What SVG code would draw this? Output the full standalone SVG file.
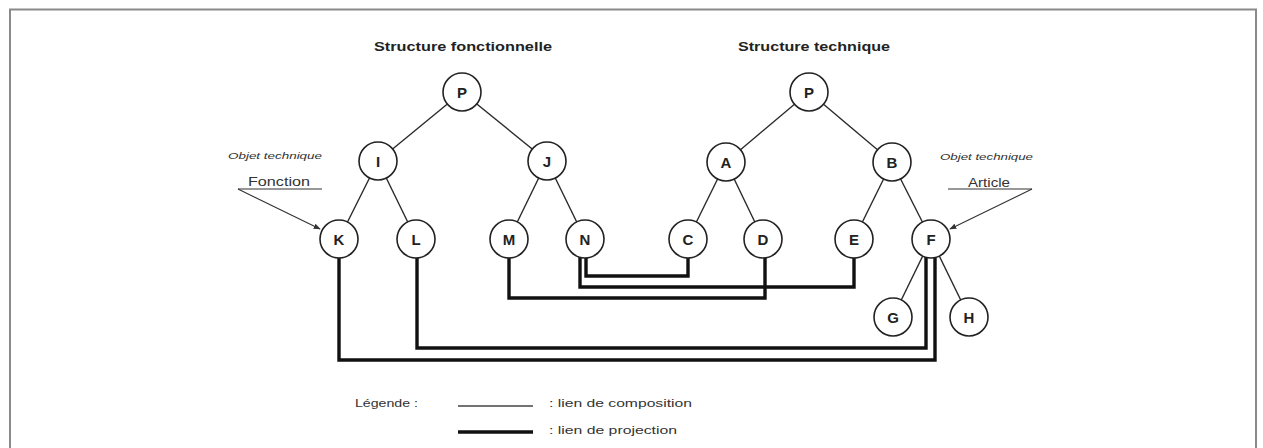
<svg xmlns="http://www.w3.org/2000/svg" width="1263" height="448" viewBox="0 0 1263 448">
<style>
.frame{fill:none;stroke:#8a8a8a;stroke-width:2}
.comp{stroke:#2a2a2a;stroke-width:1.4;fill:none}
.proj{stroke:#111;stroke-width:3.4;fill:none;stroke-linejoin:miter}
.node circle{fill:#fff;stroke:#222;stroke-width:1.6}
.node text{font-family:"Liberation Sans",Arial,sans-serif;font-weight:bold;font-size:15px;fill:#222;text-anchor:middle}
.title{font-family:"Liberation Sans",Arial,sans-serif;font-weight:bold;font-size:13px;fill:#222}
.note{font-family:"Liberation Sans",Arial,sans-serif;font-style:italic;font-size:9px;fill:#333}
.lbl{font-family:"Liberation Sans",Arial,sans-serif;font-size:12px;fill:#333}
.leg{font-family:"Liberation Sans",Arial,sans-serif;font-size:11.5px;fill:#333}
.arr{stroke:#333;stroke-width:1.1;fill:none}
</style>
<defs>
<marker id="ah" viewBox="0 0 10 10" refX="9" refY="5" markerWidth="7" markerHeight="7" orient="auto" markerUnits="userSpaceOnUse">
<path d="M0,1 L10,5 L0,9 z" fill="#333"/>
</marker>
</defs>
<rect width="1263" height="448" fill="#fff"/>
<path class="frame" d="M10,460 V9.5 H1256 V460"/>

<g id="titles">
<text class="title" x="374" y="51" textLength="178" lengthAdjust="spacingAndGlyphs">Structure fonctionnelle</text>
<text class="title" x="738" y="51" textLength="152" lengthAdjust="spacingAndGlyphs">Structure technique</text>
</g>

<g id="connectors">
<line class="comp" x1="462" y1="92" x2="378" y2="161"/>
<line class="comp" x1="462" y1="92" x2="547" y2="161"/>
<line class="comp" x1="378" y1="161" x2="339" y2="239"/>
<line class="comp" x1="378" y1="161" x2="416" y2="239"/>
<line class="comp" x1="547" y1="161" x2="509" y2="239"/>
<line class="comp" x1="547" y1="161" x2="585" y2="239"/>
<line class="comp" x1="809" y1="92" x2="726" y2="162"/>
<line class="comp" x1="809" y1="92" x2="892" y2="162"/>
<line class="comp" x1="726" y1="162" x2="688" y2="239"/>
<line class="comp" x1="726" y1="162" x2="763" y2="239"/>
<line class="comp" x1="892" y1="162" x2="854" y2="239"/>
<line class="comp" x1="892" y1="162" x2="931" y2="239"/>
<line class="comp" x1="931" y1="239" x2="893" y2="317"/>
<line class="comp" x1="931" y1="239" x2="969" y2="317"/>
<path class="proj" d="M586,256 V276 H688 V256"/>
<path class="proj" d="M580,255 V287 H854 V256"/>
<path class="proj" d="M509,256 V298 H765 V256"/>
<path class="proj" d="M339,256 V360 H935 V256"/>
<path class="proj" d="M417,256 V348 H926 V256"/>
<line class="arr" x1="238" y1="189" x2="320" y2="229" marker-end="url(#ah)"/>
<line class="arr" x1="1032" y1="189" x2="950" y2="229" marker-end="url(#ah)"/>
</g>

<g id="node-P1" class="node"><circle cx="462" cy="92" r="19"/><text x="462" y="97.5">P</text></g>
<g id="node-I" class="node"><circle cx="378" cy="161" r="19"/><text x="378" y="166.5">I</text></g>
<g id="node-J" class="node"><circle cx="547" cy="161" r="19"/><text x="547" y="166.5">J</text></g>
<g id="node-K" class="node"><circle cx="339" cy="239" r="19"/><text x="339" y="244.5">K</text></g>
<g id="node-L" class="node"><circle cx="416" cy="239" r="19"/><text x="416" y="244.5">L</text></g>
<g id="node-M" class="node"><circle cx="509" cy="239" r="19"/><text x="509" y="244.5">M</text></g>
<g id="node-N" class="node"><circle cx="585" cy="239" r="19"/><text x="585" y="244.5">N</text></g>
<g id="node-P2" class="node"><circle cx="809" cy="92" r="19"/><text x="809" y="97.5">P</text></g>
<g id="node-A" class="node"><circle cx="726" cy="162" r="19"/><text x="726" y="167.5">A</text></g>
<g id="node-B" class="node"><circle cx="892" cy="162" r="19"/><text x="892" y="167.5">B</text></g>
<g id="node-C" class="node"><circle cx="688" cy="239" r="19"/><text x="688" y="244.5">C</text></g>
<g id="node-D" class="node"><circle cx="763" cy="239" r="19"/><text x="763" y="244.5">D</text></g>
<g id="node-E" class="node"><circle cx="854" cy="239" r="19"/><text x="854" y="244.5">E</text></g>
<g id="node-F" class="node"><circle cx="931" cy="239" r="19"/><text x="931" y="244.5">F</text></g>
<g id="node-G" class="node"><circle cx="893" cy="317" r="19"/><text x="893" y="322.5">G</text></g>
<g id="node-H" class="node"><circle cx="969" cy="317" r="19"/><text x="969" y="322.5">H</text></g>

<g id="note-left">
<text class="note" x="228" y="159" textLength="94" lengthAdjust="spacingAndGlyphs">Objet technique</text>
<text class="lbl" x="248" y="186" textLength="62" lengthAdjust="spacingAndGlyphs">Fonction</text>
<line class="arr" x1="238" y1="189" x2="322" y2="189"/>
</g>
<g id="note-right">
<text class="note" x="940" y="160" textLength="93" lengthAdjust="spacingAndGlyphs">Objet technique</text>
<text class="lbl" x="968" y="187" textLength="42" lengthAdjust="spacingAndGlyphs">Article</text>
<line class="arr" x1="948" y1="189" x2="1032" y2="189"/>
</g>

<g id="legend">
<text class="leg" x="355" y="407" textLength="63" lengthAdjust="spacingAndGlyphs">Légende :</text>
<line x1="458" y1="406" x2="533" y2="406" stroke="#444" stroke-width="1.6"/>
<text class="leg" x="549" y="407" textLength="143" lengthAdjust="spacingAndGlyphs">: lien de composition</text>
<line x1="458" y1="432" x2="533" y2="432" stroke="#111" stroke-width="3.4"/>
<text class="leg" x="549" y="434" textLength="128" lengthAdjust="spacingAndGlyphs">: lien de projection</text>
</g>
</svg>
